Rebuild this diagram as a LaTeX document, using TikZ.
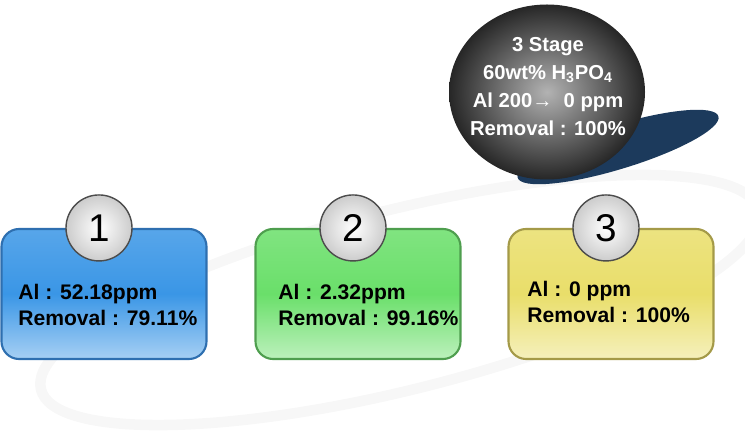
\documentclass[tikz,border=0pt]{standalone}
\usepackage{fontspec}
\setmainfont{Liberation Sans}
\usepackage{tikz}
\usetikzlibrary{shapes.geometric}
\definecolor{stageblue}{HTML}{3A96E6}
\definecolor{stagegreen}{HTML}{6ADF6A}
\definecolor{stageyellow}{HTML}{E9DE6A}
\definecolor{edgeblue}{HTML}{2E6FB0}
\definecolor{edgegreen}{HTML}{4E9E4E}
\definecolor{edgeyellow}{HTML}{A49A48}
\definecolor{navyleaf}{HTML}{1C3A5C}
\tikzset{
    stagebox/.style={draw=edge#1, line width=1.2pt, rounded corners=10pt, minimum width=4.1cm, minimum height=2.6cm,
        top color=stage#1!85!white, bottom color=stage#1!45!white, middle color=stage#1},
    numball/.style={circle, draw=black!70, line width=0.8pt, inner color=white, outer color=black!20,
        minimum size=1.32cm, inner sep=0pt, font=\fontsize{22}{24}\selectfont},
    valtext/.style={anchor=west, align=left, inner sep=0pt, font=\bfseries\fontsize{12}{15}\selectfont}
}

\begin{document}
\begin{tikzpicture}
\useasboundingbox (0,0) rectangle (14.9,8.66);
% faint swoosh behind everything
\draw[black!3, line width=6pt, rotate around={14:(8,2.66)}] (8,2.66) ellipse (7.4 and 1.8);
% stage boxes with their number balls
\foreach \x/\c/\n/\tx/\ty/\txt in {2.08/blue/1/0.36/2.56/{Al : 52.18ppm\\Removal : 79.11\%}, 7.16/green/2/5.56/2.56/{Al : 2.32ppm\\Removal : 99.16\%}, 12.22/yellow/3/10.54/2.62/{Al : 0 ppm\\Removal : 100\%}}{
    \node (box\n) at (\x,2.78)[stagebox=\c] {};
    \node (num\n) at ([xshift=-0.1cm]box\n.north)[numball] {\n};
    \node (val\n) at (\tx,\ty)[valtext] {\txt};
}
% summary ball
\fill[navyleaf, rotate around={17:(12.36,5.72)}] (12.36,5.72) ellipse (2.1 and 0.44);
\node (ball) at (10.94,6.82)[ellipse, minimum width=3.92cm, minimum height=3.5cm, inner sep=0pt, inner color=black!30, outer color=black!85] {};
\node (balltext) at (10.96,6.93)[align=center, text=white, font=\bfseries\fontsize{11.5}{16}\selectfont] {3 Stage\\60wt\% H\textsubscript{3}PO\textsubscript{4}\\Al 200→\ \ 0 ppm\\Removal : 100\%};
\end{tikzpicture}
\end{document}
